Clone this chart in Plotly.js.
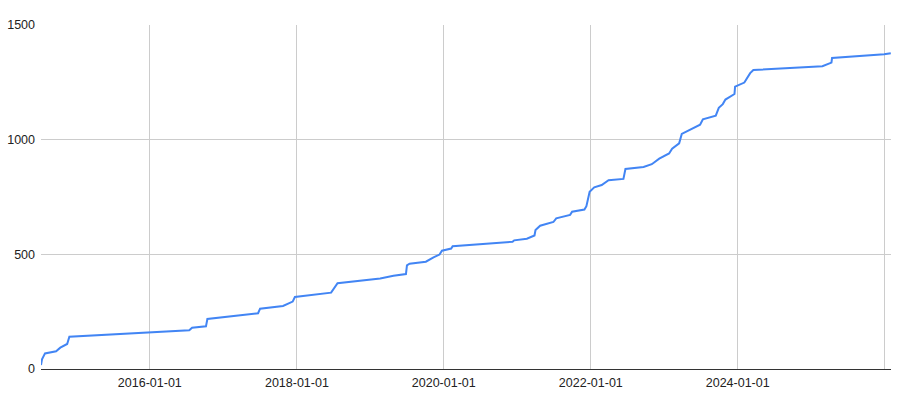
<!DOCTYPE html>
<html>
<head>
<meta charset="utf-8">
<script src="https://cdn.plot.ly/plotly-3.0.1.min.js"></script>
<style>html,body{margin:0;padding:0;background:#fff;}#chart{width:900px;height:400px;}</style>
</head>
<body>
<div id="chart"></div>
<script>
const dates = [
  '2014-07-09','2014-07-14','2014-07-29','2014-09-22','2014-10-13','2014-11-16','2014-11-27',
  '2016-07-15','2016-07-29','2016-10-06','2016-10-13',
  '2017-06-22','2017-07-02','2017-10-24','2017-12-11','2017-12-22',
  '2018-06-20','2018-07-22',
  '2019-02-19','2019-04-26','2019-06-27','2019-07-02','2019-07-15','2019-10-04','2019-11-11','2019-12-11','2019-12-23',
  '2020-02-07','2020-02-14','2020-12-08','2020-12-16',
  '2021-02-17','2021-03-27','2021-04-01','2021-04-24','2021-06-29','2021-07-13','2021-09-20','2021-09-30','2021-11-30','2021-12-10','2021-12-26',
  '2022-01-18','2022-02-24','2022-03-30','2022-06-12','2022-06-22','2022-09-20','2022-10-31','2022-12-07',
  '2023-01-25','2023-02-09','2023-03-16','2023-03-29','2023-06-28','2023-07-12','2023-09-14','2023-09-29','2023-10-19','2023-11-01','2023-12-16','2023-12-19',
  '2024-02-03','2024-03-03','2024-03-19',
  '2025-02-25','2025-04-11','2025-04-14','2025-12-29','2026-01-31'
];
const counts = [
  17, 42, 68, 77, 93, 109, 141,
  169, 180, 186, 218,
  243, 263, 275, 294, 314,
  333, 374,
  395, 407, 414, 452, 459, 468, 487, 499, 516,
  525, 535, 555, 561,
  568, 582, 606, 625, 641, 657, 672, 686, 695, 710, 773,
  792, 802, 823, 829, 872, 881, 893, 917,
  940, 961, 984, 1025, 1065, 1089, 1105, 1139, 1155, 1175, 1199, 1231,
  1249, 1290, 1304,
  1320, 1336, 1356, 1372, 1377
];
const xTickVals = ['2016-01-01','2018-01-01','2020-01-01','2022-01-01','2024-01-01','2026-01-01'];
const xTickText = ['2016-01-01','2018-01-01','2020-01-01','2022-01-01','2024-01-01',''];
const yTickVals = [0, 500, 1000, 1500];

Plotly.newPlot('chart', [{
  x: dates, y: counts, type: 'scatter', mode: 'lines',
  line: {color: '#4285F4', width: 2},
  hoverinfo: 'x+y'
}], {
  width: 900, height: 400,
  margin: {l: 41, r: 9, t: 25, b: 31},
  paper_bgcolor: '#fff', plot_bgcolor: '#fff',
  showlegend: false,
  font: {family: 'Liberation Sans, Arial, sans-serif', size: 12, color: '#222'},
  xaxis: {
    type: 'date', range: ['2014-07-09', '2026-02-01'],
    tickmode: 'array', tickvals: xTickVals, ticktext: xTickText,
    showgrid: true, gridcolor: '#cccccc', gridwidth: 1,
    zeroline: false, showline: false, ticks: '', ticklabelstandoff: 4,
    tickfont: {size: 12.5, color: '#222'}
  },
  yaxis: {
    range: [0, 1500], tickmode: 'array', tickvals: yTickVals,
    showgrid: true, gridcolor: '#cccccc', gridwidth: 1,
    zeroline: true, zerolinecolor: '#333', zerolinewidth: 1,
    showline: false, ticks: '', ticklabelstandoff: 5,
    tickfont: {size: 12.5, color: '#222'}
  }
}, {displayModeBar: false, staticPlot: true});
</script>
</body>
</html>
